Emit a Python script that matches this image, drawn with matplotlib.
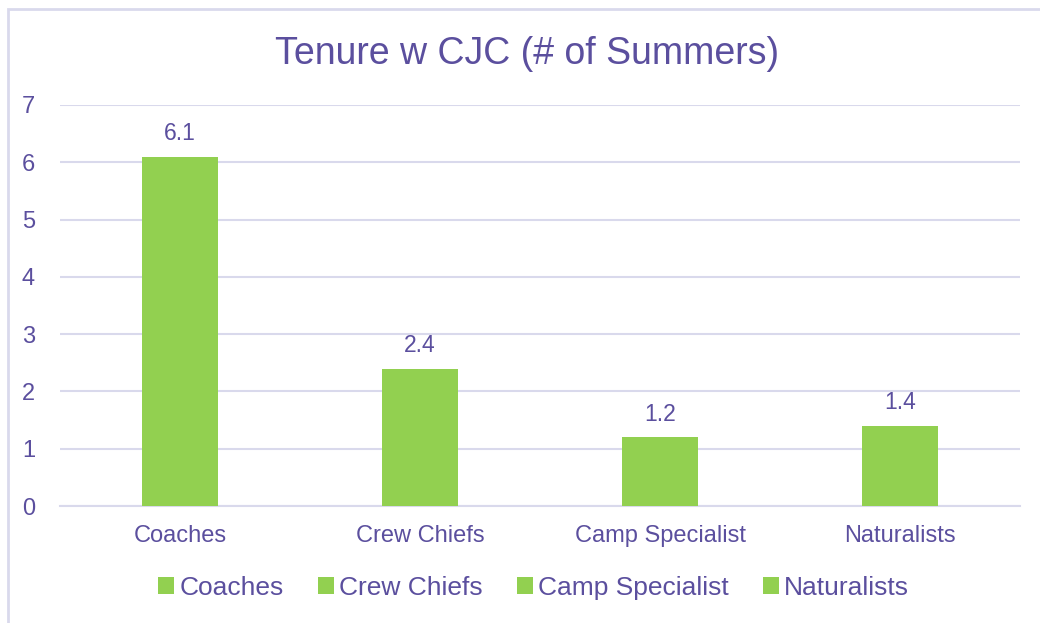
import matplotlib
matplotlib.use("Agg")
import matplotlib.pyplot as plt
from matplotlib.patches import Rectangle

categories = ["Coaches", "Crew Chiefs", "Camp Specialist", "Naturalists"]
values = [6.1, 2.4, 1.2, 1.4]
yticks = [0, 1, 2, 3, 4, 5, 6, 7]

TXT = "#5B4F9E"
GREEN = "#92D050"
GRID = "#D9D9EC"

plt.rcParams["font.family"] = ["Liberation Sans", "DejaVu Sans"]

fig = plt.figure(figsize=(10.4, 6.23), dpi=100)
ax = fig.add_axes([0.0577, 0.1878, 0.9231, 0.6437])

# cadre exterieur
fig.patches.append(Rectangle((8 / 1040, -0.1), 1.2, 1 - 9 / 623 + 0.1, transform=fig.transFigure,
                             fill=False, edgecolor=GRID, linewidth=2))

x = range(len(categories))
for i, (c, v) in enumerate(zip(categories, values)):
    ax.bar(i, v, width=0.32, color=GREEN, label=c, zorder=3)
    ax.text(i, v + 0.2, f"{v:.1f}", ha="center", va="bottom", color=TXT, fontsize=16.5)

ax.set_xlim(-0.5, len(categories) - 0.5)
ax.set_ylim(0, 7)
ax.set_yticks(yticks)
ax.set_xticks(list(x))
ax.set_xticklabels(categories)
ax.yaxis.grid(True, color=GRID, linewidth=1.5, zorder=0)
for s in ["top", "right", "left"]:
    ax.spines[s].set_visible(False)
ax.spines["bottom"].set_color(GRID)
ax.spines["bottom"].set_linewidth(1.5)
ax.tick_params(length=0, labelcolor=TXT, labelsize=17)
ax.tick_params(axis="y", pad=18)
ax.tick_params(axis="x", pad=14)

fig.suptitle("Tenure w CJC (# of Summers)", x=0.507, y=0.943, fontsize=27, color=TXT, va="top")

leg = fig.legend(loc="center", bbox_to_anchor=(0.513, 0.056), ncol=4, frameon=False,
                 fontsize=19, handlelength=0.6, handleheight=0.6, handletextpad=0.2,
                 columnspacing=1.3)
for t in leg.get_texts():
    t.set_color(TXT)

fig.savefig("out.png", dpi=100)
